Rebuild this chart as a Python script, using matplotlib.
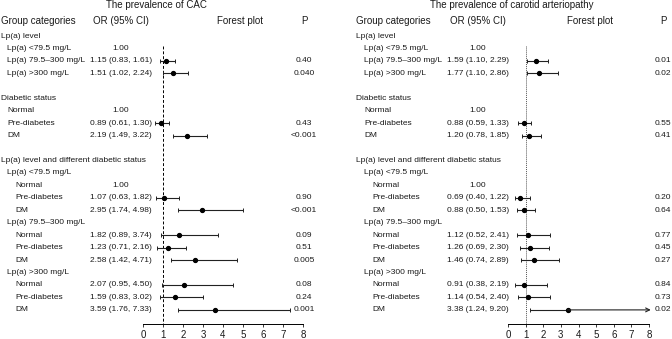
import numpy as np
import matplotlib
matplotlib.use("Agg")
import matplotlib.pyplot as plt
from matplotlib.transforms import blended_transform_factory

plt.rcParams["font.family"] = ["Liberation Sans", "DejaVu Sans"]

# -- Data --
labels = [
    "Lp(a) level", "Lp(a) <79.5 mg/L", "Lp(a) 79.5–300 mg/L", "Lp(a) >300 mg/L", "",
    "Diabetic status", "Normal", "Pre-diabetes", "DM", "",
    "Lp(a) level and different diabetic status",
    "Lp(a) <79.5 mg/L", "Normal", "Pre-diabetes", "DM",
    "Lp(a) 79.5–300 mg/L", "Normal", "Pre-diabetes", "DM",
    "Lp(a) >300 mg/L", "Normal", "Pre-diabetes", "DM",
]
indent = [0, 1, 1, 1, 0, 0, 1, 1, 1, 0, 0, 1, 2, 2, 2, 1, 2, 2, 2, 1, 2, 2, 2]

nan = np.nan
or_cac = [nan, 1.00, 1.15, 1.51, nan, nan, 1.00, 0.89, 2.19, nan, nan,
          nan, 1.00, 1.07, 2.95, nan, 1.82, 1.23, 2.58, nan, 2.07, 1.59, 3.59]
lo_cac = [nan, nan, 0.83, 1.02, nan, nan, nan, 0.61, 1.49, nan, nan,
          nan, nan, 0.63, 1.74, nan, 0.89, 0.71, 1.42, nan, 0.95, 0.83, 1.76]
hi_cac = [nan, nan, 1.61, 2.24, nan, nan, nan, 1.30, 3.22, nan, nan,
          nan, nan, 1.82, 4.98, nan, 3.74, 2.16, 4.71, nan, 4.50, 3.02, 7.33]
p_cac = ["", "", "0.40", "0.040", "", "", "", "0.43", "<0.001", "", "",
         "", "", "0.90", "<0.001", "", "0.09", "0.51", "0.005", "", "0.08", "0.24", "0.001"]

or_car = [nan, 1.00, 1.59, 1.77, nan, nan, 1.00, 0.88, 1.20, nan, nan,
          nan, 1.00, 0.69, 0.88, nan, 1.12, 1.26, 1.46, nan, 0.91, 1.14, 3.38]
lo_car = [nan, nan, 1.10, 1.10, nan, nan, nan, 0.59, 0.78, nan, nan,
          nan, nan, 0.40, 0.50, nan, 0.52, 0.69, 0.74, nan, 0.38, 0.54, 1.24]
hi_car = [nan, nan, 2.29, 2.86, nan, nan, nan, 1.33, 1.85, nan, nan,
          nan, nan, 1.22, 1.53, nan, 2.41, 2.30, 2.89, nan, 2.19, 2.40, 9.20]
p_car = ["", "", "0.01", "0.02", "", "", "", "0.55", "0.41", "", "",
         "", "", "0.20", "0.64", "", "0.77", "0.45", "0.27", "", "0.84", "0.73", "0.02"]

xticks = [0, 1, 2, 3, 4, 5, 6, 7, 8]

# -- Layout (pixels of a 672x339 canvas) --
W, H = 672, 339
ROW0, ROWH = 36, 12.45
AX_BOTTOM = 324
TXT = "#1a1a1a"
FS = 6

panels = [
    dict(title="The prevalence of CAC", title_x=156, ax_left=143, ax_right=303,
         ind=[1, 7, 15], or_x=121, fp_x=240, p_x=304, p_ha="center", ph_x=304, ph_ha="center",
         orv=or_cac, lo=lo_cac, hi=hi_cac, p=p_cac, ref_ls=(0, (3, 2)), ref_c="black"),
    dict(title="The prevalence of carotid arteriopathy", title_x=512, ax_left=508, ax_right=649,
         ind=[356, 364, 372], or_x=478, fp_x=590, p_x=655, p_ha="left", ph_x=660, ph_ha="left",
         orv=or_car, lo=lo_car, hi=hi_car, p=p_car, ref_ls=(0, (1, 1)), ref_c="#555555"),
]

fig = plt.figure(figsize=(W / 100, H / 100), dpi=100)
r_bot = (AX_BOTTOM - ROW0) / ROWH
r_top = (0 - ROW0) / ROWH


def fy(py):
    return 1 - py / H


for pn in panels:
    ax = fig.add_axes([pn["ax_left"] / W, (H - AX_BOTTOM) / H,
                       (pn["ax_right"] - pn["ax_left"]) / W, AX_BOTTOM / H])
    ax.set_facecolor("none")
    ax.set_xlim(0, 8)
    ax.set_ylim(r_bot, r_top)
    for s in ("left", "right", "top"):
        ax.spines[s].set_visible(False)
    ax.spines["bottom"].set_linewidth(0.7)
    ax.set_yticks([])
    ax.set_xticks(xticks)
    ax.tick_params(axis="x", length=2.5, width=0.6, pad=1.5, labelsize=7, colors=TXT)

    # reference line at OR = 1
    ax.plot([1, 1], [0.8, r_bot], ls=pn["ref_ls"], color=pn["ref_c"], lw=0.7, clip_on=False)

    tr = blended_transform_factory(fig.transFigure, ax.transData)

    # titles and headers
    fig.text(pn["title_x"] / W, fy(5), pn["title"], ha="center", va="center", fontsize=7, color=TXT)
    fig.text(pn["ind"][0] / W, fy(21), "Group categories", ha="left", va="center", fontsize=7, color=TXT)
    fig.text(pn["or_x"] / W, fy(21), "OR (95% CI)", ha="center", va="center", fontsize=7, color=TXT)
    fig.text(pn["fp_x"] / W, fy(21), "Forest plot", ha="center", va="center", fontsize=7, color=TXT)
    fig.text(pn["ph_x"] / W, fy(21), "P", ha=pn["ph_ha"], va="center", fontsize=7, color=TXT)

    for r, lab in enumerate(labels):
        if lab:
            ax.text(pn["ind"][indent[r]] / W, r, lab, transform=tr, ha="left", va="center",
                    fontsize=FS, color=TXT)
        o, lo, hi = pn["orv"][r], pn["lo"][r], pn["hi"][r]
        if np.isnan(o):
            continue
        if np.isnan(lo):
            txt = f"{o:.2f}"
        else:
            txt = f"{o:.2f} ({lo:.2f}, {hi:.2f})"
        ax.text(pn["or_x"] / W, r, txt, transform=tr, ha="center", va="center",
                fontsize=FS, color=TXT)
        if pn["p"][r]:
            ax.text(pn["p_x"] / W, r, pn["p"][r], transform=tr, ha=pn["p_ha"], va="center",
                    fontsize=FS, color=TXT)
        if np.isnan(lo):
            continue
        if hi <= 8:
            ax.errorbar(o, r, xerr=[[o - lo], [hi - o]], fmt="o", ms=2.8, color="black",
                        ecolor="#222222", elinewidth=0.8, capsize=1.6, capthick=0.7, clip_on=False)
        else:
            ax.errorbar(o, r, xerr=[[o - lo], [0]], fmt="o", ms=2.8, color="black",
                        ecolor="#222222", elinewidth=0.8, capsize=1.6, capthick=0.7, clip_on=False)
            ax.annotate("", xy=(8.1, r), xytext=(o, r), annotation_clip=False,
                        arrowprops=dict(arrowstyle="->", lw=0.8, color="#222222",
                                        shrinkA=0, shrinkB=0, mutation_scale=7))

fig.savefig("out.png", dpi=100)
